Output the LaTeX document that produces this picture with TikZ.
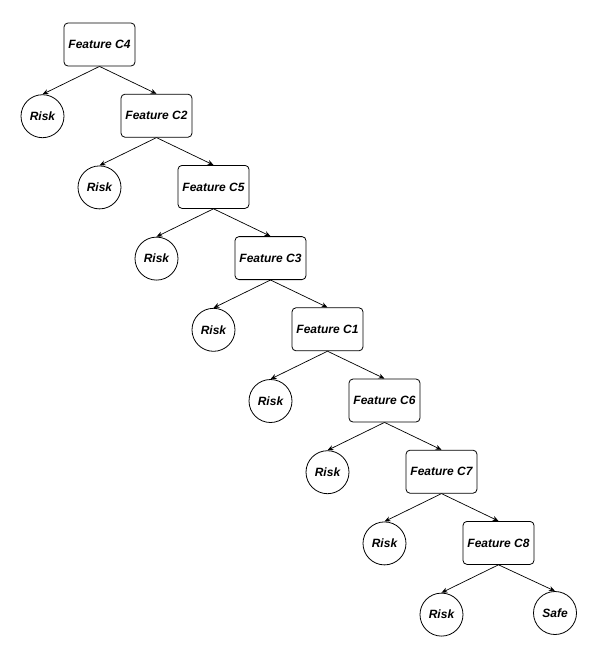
\documentclass[tikz,border=0pt]{standalone}
\usepackage{fontspec}
\setmainfont{Liberation Sans}
\usetikzlibrary{arrows.meta}

\begin{document}
\begin{tikzpicture}[x=1pt,y=-1pt,
      feat/.style={draw,line width=.8pt,rounded corners=4pt,minimum width=71pt,minimum height=43pt,
        font=\fontsize{12}{14}\selectfont\bfseries\itshape},
      leaf/.style={draw,line width=.8pt,circle,minimum size=43pt,inner sep=0pt,
        font=\fontsize{12}{14}\selectfont\bfseries\itshape},
      edge/.style={-{Stealth[length=6pt,width=5pt]},line width=.7pt}]
    \useasboundingbox (0,0) rectangle (598,659);
    % feature nodes and their risk leaves
    \foreach \lab [count=\i from 0] in {C4,C2,C5,C3,C1,C6,C7,C8} {
      \node[feat] (f\i) at ({99.5+57*\i},{44.5+71.2*\i}) {Feature \lab};
      \node[leaf] (r\i) at ({42.5+57*\i},{116.2+71.2*\i}) {Risk};
    }
    \node[leaf] (safe) at (555,613) {Safe};
    % connectors
    \foreach \i [evaluate=\i as \j using int(\i+1)] in {0,...,6} {
      \draw[edge] (f\i.south) -- (r\i.north);
      \draw[edge] (f\i.south) -- (f\j.north);
    }
    \draw[edge] (f7.south) -- (r7.north);
    \draw[edge] (f7.south) -- (safe.north);
  \end{tikzpicture}
\end{document}
